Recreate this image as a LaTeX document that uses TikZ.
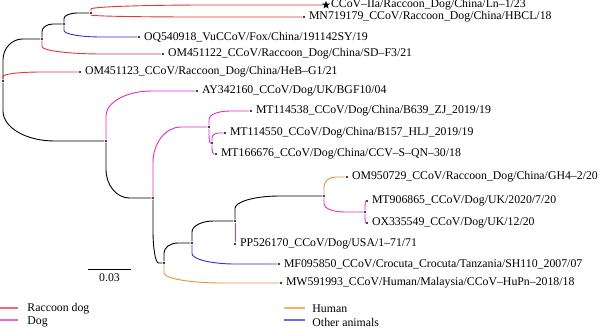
\documentclass[tikz,border=0pt]{standalone}
\usepackage{fontspec}
\setmainfont{Liberation Serif}
\usepackage{tikz}
\usetikzlibrary{positioning}
\usetikzlibrary{calc}
\usetikzlibrary{shapes.geometric}
\definecolor{raccoondog}{HTML}{E5343A}
\definecolor{dog}{HTML}{E02BCF}
\definecolor{human}{HTML}{F08C35}
\definecolor{otheranimal}{HTML}{2F2FD2}
\definecolor{raccoondogkey}{HTML}{EE6A78}
\definecolor{dogkey}{HTML}{EE66DC}
\definecolor{humankey}{HTML}{F4AE78}
\definecolor{otheranimalkey}{HTML}{6A6AEE}
\newlength\tipgap
\setlength{\tipgap}{3pt}

\begin{document}
\begin{tikzpicture}[
    x=1pt, y=-1pt,
    line width=0.9pt,
    every node/.style={font=\fontsize{11.8}{14}\selectfont},
    dot/.style={circle, fill=black, inner sep=0pt, minimum size=2.2pt},
    tipstar/.style={star, star points=5, star point ratio=2.4,
      fill=black, inner sep=0pt, minimum size=8.5pt},
    lab/.style={anchor=west, inner sep=0pt},
    branch/.style={to path={
      let \p1=(\tikztostart), \p2=(\tikztotarget) in
      -- (\x1,{0.5*(\y1+\y2)})
      .. controls (\x1,{0.5*(\y1+\y2)+0.276*(\y2-\y1)})
      and ({0.5*(\x1+\x2)-0.276*(\x2-\x1)},\y2)
      .. ({0.5*(\x1+\x2)},\y2)
      -- (\tikztotarget)}},
    legline/.style={line width=1.2pt}
]
  \useasboundingbox (0,0) rectangle (600,330);

  % inner nodes of the tree
  \node[dot] (n0) at (3,81) {};
  \node[dot] (nA) at (42,39) {};
  \node[dot] (nC) at (64,24) {};
  \node[dot] (nD) at (91,13) {};
  \node[dot] (nB) at (106,141) {};
  \node[dot] (nE) at (153,198) {};
  \node[dot] (nF) at (209,127) {};
  \node[dot] (nM) at (212,143) {};
  \node[dot] (nG) at (164,263) {};
  \node[dot] (nH) at (192,243) {};
  \node[dot] (nI) at (235,221) {};
  \node[dot] (nK) at (324,196) {};
  \node[dot] (nL) at (365,212) {};

  % tips
  \node[tipstar] (tLn) at (326,5) {};
  \node[dot] (tMN) at (304,17) {};
  \node[dot] (tOQ) at (139,37) {};
  \node[dot] (tOM22) at (163,54) {};
  \node[dot] (tOM23) at (80,72) {};
  \node[dot] (tAY) at (197,91) {};
  \node[dot] (tMT38) at (251,111) {};
  \node[dot] (tMT50) at (225,133) {};
  \node[dot] (tMT76) at (216,154) {};
  \node[dot] (tOM29) at (347,177) {};
  \node[dot] (tMT65) at (367,201) {};
  \node[dot] (tOX) at (367,223) {};
  \node[dot] (tPP) at (235,244) {};
  \node[dot] (tMF) at (279,264) {};
  \node[dot] (tMW) at (281,283) {};

  \node[lab, right=1.5pt of tLn] (lLn) {CCoV--IIa/Raccoon\_Dog/China/Ln--1/23};
  \node[lab, right=\tipgap of tMN] (lMN) {MN719179\_CCoV/Raccoon\_Dog/China/HBCL/18};
  \node[lab, right=\tipgap of tOQ] (lOQ) {OQ540918\_VuCCoV/Fox/China/191142SY/19};
  \node[lab, right=\tipgap of tOM22] (lOM22) {OM451122\_CCoV/Raccoon\_Dog/China/SD--F3/21};
  \node[lab, right=\tipgap of tOM23] (lOM23) {OM451123\_CCoV/Raccoon\_Dog/China/HeB--G1/21};
  \node[lab, right=\tipgap of tAY] (lAY) {AY342160\_CCoV/Dog/UK/BGF10/04};
  \node[lab, right=\tipgap of tMT38] (lMT38) {MT114538\_CCoV/Dog/China/B639\_ZJ\_2019/19};
  \node[lab, right=\tipgap of tMT50] (lMT50) {MT114550\_CCoV/Dog/China/B157\_HLJ\_2019/19};
  \node[lab, right=\tipgap of tMT76] (lMT76) {MT166676\_CCoV/Dog/China/CCV--S--QN--30/18};
  \node[lab, right=\tipgap of tOM29] (lOM29) {OM950729\_CCoV/Raccoon\_Dog/China/GH4--2/20};
  \node[lab, right=\tipgap of tMT65] (lMT65) {MT906865\_CCoV/Dog/UK/2020/7/20};
  \node[lab, right=\tipgap of tOX] (lOX) {OX335549\_CCoV/Dog/UK/12/20};
  \node[lab, right=\tipgap of tPP] (lPP) {PP526170\_CCoV/Dog/USA/1--71/71};
  \node[lab, right=\tipgap of tMF] (lMF) {MF095850\_CCoV/Crocuta\_Crocuta/Tanzania/SH110\_2007/07};
  \node[lab, right=\tipgap of tMW] (lMW) {MW591993\_CCoV/Human/Malaysia/CCoV--HuPn--2018/18};

  % branches
  \draw (n0) to[branch] (nA);
  \draw[raccoondog] (n0) to[branch] (tOM23);
  \draw (n0) to[branch] (nB);

  \draw (nA) to[branch] (nC);
  \draw[raccoondog] (nA) to[branch] (tOM22);
  \draw (nC) to[branch] (nD);
  \draw[otheranimal] (nC) to[branch] (tOQ);
  \draw[raccoondog] (nD) to[branch] (tLn);
  \draw[raccoondog] (nD) to[branch] (tMN);

  \draw[dog] (nB) to[branch] (tAY);
  \draw (nB) to[branch] (nE);
  \draw[dog] (nE) to[branch] (nF);
  \draw (nE) to[branch] (nG);
  \draw[dog] (nF) to[branch] (tMT38);
  \draw[dog] (nF) to[branch] (nM);
  \draw[dog] (nM) to[branch] (tMT50);
  \draw[dog] (nM) to[branch] (tMT76);

  \draw (nG) to[branch] (nH);
  \draw[human] (nG) to[branch] (tMW);
  \draw (nH) to[branch] (nI);
  \draw[otheranimal] (nH) to[branch] (tMF);
  \draw[dog] (nI) -- (tPP);
  \draw (nI) to[branch] (nK);
  \draw[human] (nK) to[branch] (tOM29);
  \draw[dog] (nK) to[branch] (nL);
  \draw[dog] (nL) to[branch] (tMT65);
  \draw[dog] (nL) to[branch] (tOX);

  % scale bar
  \coordinate (sbL) at (88,269);
  \coordinate (sbR) at (131,269);
  \draw[line width=0.8pt] (sbL) -- node[below=4pt, inner sep=0pt] (sblab) {0.03} (sbR);

  % legend
  \coordinate (rdA) at (0,308);
  \coordinate (rdB) at (18,308);
  \draw[legline, draw=raccoondogkey] (rdA) -- (rdB);
  \node[lab] (rdlab) at (27,309) {Raccoon dog};

  \coordinate (dgA) at (0,320);
  \coordinate (dgB) at (18,320);
  \draw[legline, draw=dogkey] (dgA) -- (dgB);
  \node[lab] (dglab) at (27,322) {Dog};

  \coordinate (huA) at (284,308);
  \coordinate (huB) at (305,308);
  \draw[legline, draw=humankey] (huA) -- (huB);
  \node[lab] (hulab) at (312,309) {Human};

  \coordinate (otA) at (284,320);
  \coordinate (otB) at (305,320);
  \draw[legline, draw=otheranimalkey] (otA) -- (otB);
  \node[lab] (otlab) at (312,322) {Other animals};

\end{tikzpicture}
\end{document}
